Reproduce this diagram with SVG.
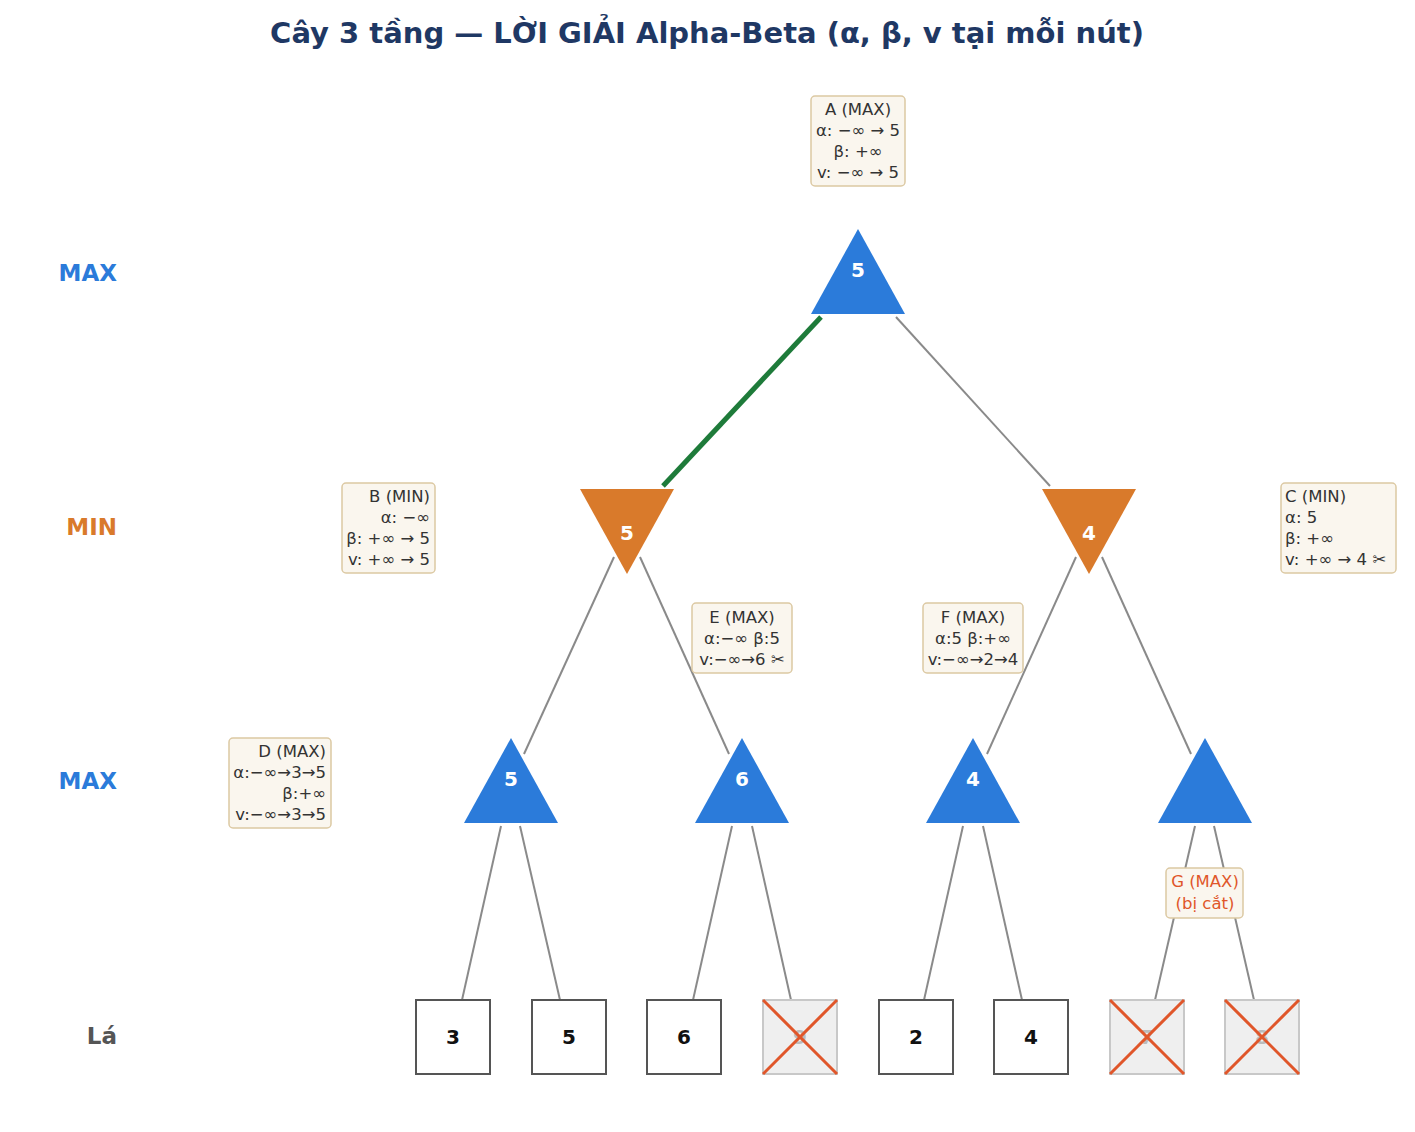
<svg xmlns="http://www.w3.org/2000/svg" width="1415" height="1132" viewBox="0 0 1415 1132">
<style>
text{font-family:"DejaVu Sans","Noto Sans",sans-serif}
.title{font-size:29px;font-weight:bold;fill:#1f3864}
.lvl{font-size:23px;font-weight:bold}
.max{fill:#2b7bda}
.min{fill:#d97a2b}
.nv{font-size:20px;font-weight:bold;fill:#fff}
.e{stroke:#8a8a8a;stroke-width:2;fill:none}
.box{fill:#faf6ee;stroke:#dcc9a3;stroke-width:1.5}
.bt{font-size:16.5px;fill:#333}
.leaf{fill:#fff;stroke:#555;stroke-width:2}
.lt{font-size:20px;font-weight:bold;fill:#111}
.pl{fill:#efefef;stroke:#c8c8c8;stroke-width:2}
.pt{font-size:20px;font-weight:bold;fill:#bbb}
.x{stroke:#e0562a;stroke-width:3}
</style>
<rect width="1415" height="1132" fill="#fff"/>
<text class="title" x="707" y="43" text-anchor="middle">Cây 3 tầng — LỜI GIẢI Alpha-Beta (α, β, v tại mỗi nút)</text>
<g id="levels" text-anchor="end">
<text class="lvl" x="117" y="281" fill="#2b7bda">MAX</text>
<text class="lvl" x="117" y="535" fill="#d97a2b">MIN</text>
<text class="lvl" x="117" y="789" fill="#2b7bda">MAX</text>
<text class="lvl" x="117" y="1044" fill="#555">Lá</text>
</g>
<g id="connectors">
<line x1="821" y1="317" x2="663" y2="486" stroke="#1e7b3a" stroke-width="5"/>
<line class="e" x1="896" y1="317" x2="1050" y2="486"/>
<line class="e" x1="614" y1="557" x2="524" y2="754"/>
<line class="e" x1="640" y1="557" x2="729" y2="754"/>
<line class="e" x1="1076" y1="557" x2="987" y2="754"/>
<line class="e" x1="1102" y1="557" x2="1191" y2="754"/>
<line class="e" x1="501" y1="826" x2="462" y2="1000"/>
<line class="e" x1="520" y1="826" x2="560" y2="1000"/>
<line class="e" x1="732" y1="826" x2="693" y2="1000"/>
<line class="e" x1="752" y1="826" x2="791" y2="1000"/>
<line class="e" x1="963" y1="826" x2="924" y2="1000"/>
<line class="e" x1="983" y1="826" x2="1022" y2="1000"/>
<line class="e" x1="1195" y1="826" x2="1155" y2="1000"/>
<line class="e" x1="1214" y1="826" x2="1254" y2="1000"/>
</g>
<g id="A"><polygon class="max" points="858,229 905,314 811,314"/><text class="nv" x="858" y="277" text-anchor="middle">5</text></g>
<g id="B"><polygon class="min" points="580,489 674,489 627,574"/><text class="nv" x="627" y="540" text-anchor="middle">5</text></g>
<g id="C"><polygon class="min" points="1042,489 1136,489 1089,574"/><text class="nv" x="1089" y="540" text-anchor="middle">4</text></g>
<g id="D"><polygon class="max" points="511,738 558,823 464,823"/><text class="nv" x="511" y="786" text-anchor="middle">5</text></g>
<g id="E"><polygon class="max" points="742,738 789,823 695,823"/><text class="nv" x="742" y="786" text-anchor="middle">6</text></g>
<g id="F"><polygon class="max" points="973,738 1020,823 926,823"/><text class="nv" x="973" y="786" text-anchor="middle">4</text></g>
<g id="G"><polygon class="max" points="1205,738 1252,823 1158,823"/></g>
<g id="infoA"><rect class="box" x="811" y="96" width="94" height="90" rx="4"/>
<text class="bt" text-anchor="middle"><tspan x="858" y="115">A (MAX)</tspan><tspan x="858" y="136">α: −∞ → 5</tspan><tspan x="858" y="157">β: +∞</tspan><tspan x="858" y="178">v: −∞ → 5</tspan></text></g>
<g id="infoB"><rect class="box" x="342" y="483" width="93" height="90" rx="4"/>
<text class="bt" text-anchor="end"><tspan x="430" y="502">B (MIN)</tspan><tspan x="430" y="523">α: −∞</tspan><tspan x="430" y="544">β: +∞ → 5</tspan><tspan x="430" y="565">v: +∞ → 5</tspan></text></g>
<g id="infoC"><rect class="box" x="1281" y="483" width="115" height="90" rx="4"/>
<text class="bt"><tspan x="1285" y="502">C (MIN)</tspan><tspan x="1285" y="523">α: 5</tspan><tspan x="1285" y="544">β: +∞</tspan><tspan x="1285" y="565">v: +∞ → 4  ✂</tspan></text></g>
<g id="infoD"><rect class="box" x="229" y="738" width="102" height="90" rx="4"/>
<text class="bt" text-anchor="end"><tspan x="326" y="757">D (MAX)</tspan><tspan x="326" y="778">α:−∞→3→5</tspan><tspan x="326" y="799">β:+∞</tspan><tspan x="326" y="820">v:−∞→3→5</tspan></text></g>
<g id="infoE"><rect class="box" x="692" y="603" width="100" height="70" rx="4"/>
<text class="bt" text-anchor="middle"><tspan x="742" y="623">E (MAX)</tspan><tspan x="742" y="644">α:−∞  β:5</tspan><tspan x="742" y="665">v:−∞→6  ✂</tspan></text></g>
<g id="infoF"><rect class="box" x="923" y="603" width="100" height="70" rx="4"/>
<text class="bt" text-anchor="middle"><tspan x="973" y="623">F (MAX)</tspan><tspan x="973" y="644">α:5  β:+∞</tspan><tspan x="973" y="665">v:−∞→2→4</tspan></text></g>
<g id="infoG"><rect class="box" x="1166" y="868" width="77" height="50" rx="4"/>
<text class="bt" text-anchor="middle" style="fill:#e0562a"><tspan x="1205" y="887">G (MAX)</tspan><tspan x="1205" y="909">(bị cắt)</tspan></text></g>
<g id="L1"><rect class="leaf" x="416" y="1000" width="74" height="74"/><text class="lt" x="453" y="1044" text-anchor="middle">3</text></g>
<g id="L2"><rect class="leaf" x="532" y="1000" width="74" height="74"/><text class="lt" x="569" y="1044" text-anchor="middle">5</text></g>
<g id="L3"><rect class="leaf" x="647" y="1000" width="74" height="74"/><text class="lt" x="684" y="1044" text-anchor="middle">6</text></g>
<g id="L4"><rect class="pl" x="763" y="1000" width="74" height="74"/><text class="pt" x="800" y="1044" text-anchor="middle">9</text><line class="x" x1="763" y1="1000" x2="837" y2="1074"/><line class="x" x1="837" y1="1000" x2="763" y2="1074"/></g>
<g id="L5"><rect class="leaf" x="879" y="1000" width="74" height="74"/><text class="lt" x="916" y="1044" text-anchor="middle">2</text></g>
<g id="L6"><rect class="leaf" x="994" y="1000" width="74" height="74"/><text class="lt" x="1031" y="1044" text-anchor="middle">4</text></g>
<g id="L7"><rect class="pl" x="1110" y="1000" width="74" height="74"/><text class="pt" x="1147" y="1044" text-anchor="middle">7</text><line class="x" x1="1110" y1="1000" x2="1184" y2="1074"/><line class="x" x1="1184" y1="1000" x2="1110" y2="1074"/></g>
<g id="L8"><rect class="pl" x="1225" y="1000" width="74" height="74"/><text class="pt" x="1262" y="1044" text-anchor="middle">8</text><line class="x" x1="1225" y1="1000" x2="1299" y2="1074"/><line class="x" x1="1299" y1="1000" x2="1225" y2="1074"/></g>
</svg>
